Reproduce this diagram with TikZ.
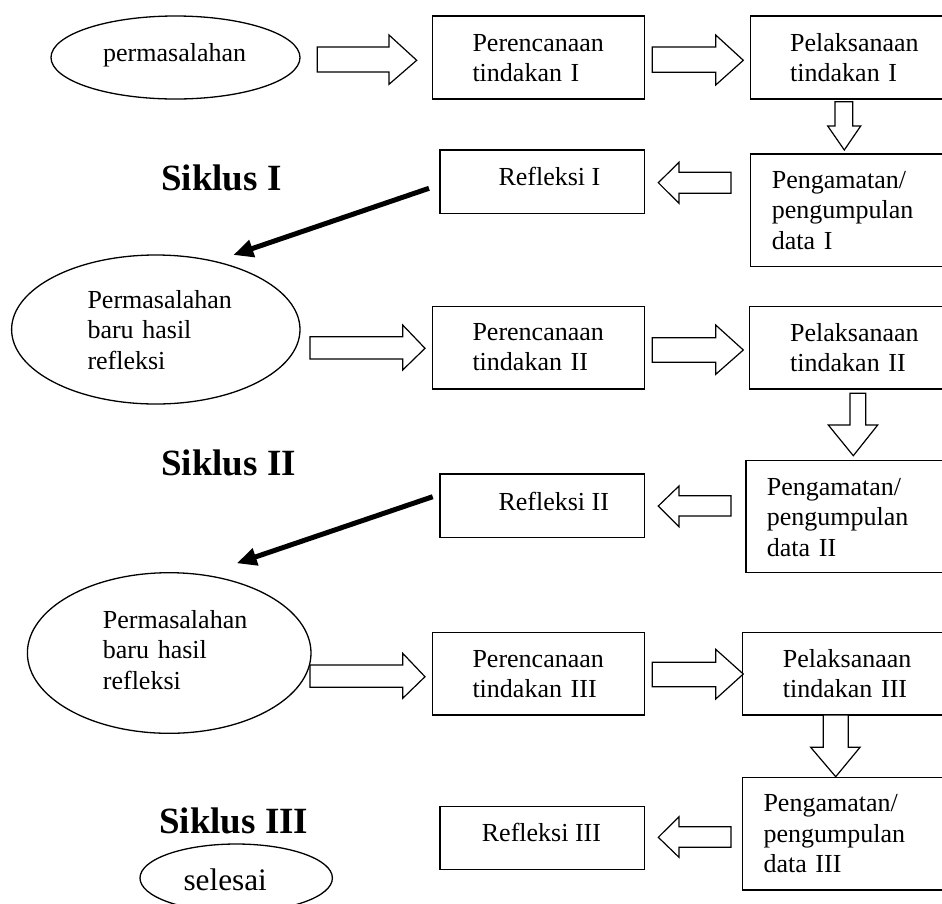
\documentclass[tikz,border=0pt]{standalone}
\usepackage{fontspec}
\setmainfont{Liberation Serif}
\usetikzlibrary{arrows.meta,shapes.geometric}
% horizontal block arrow: tail x, head-start x, tip x, shaft top, shaft bottom, head top, head bottom, tip y
\newcommand{\hblockarrow}[8]{%
  \draw[blockarrow] (#1,#4) -- (#2,#4) -- (#2,#6) -- (#3,#8) -- (#2,#7) -- (#2,#5) -- (#1,#5) -- cycle;}
% vertical block arrow: tail y, head-start y, tip y, shaft left, shaft right, head left, head right, tip x
\newcommand{\vblockarrow}[8]{%
  \draw[blockarrow] (#4,#1) -- (#4,#2) -- (#6,#2) -- (#8,#3) -- (#7,#2) -- (#5,#2) -- (#5,#1) -- cycle;}
\tikzset{
  stepbox/.style={draw, rectangle, line width=1.5pt, inner sep=0pt, outer sep=0pt, anchor=north west},
  oval/.style={draw, ellipse, line width=1.3pt, inner sep=0pt},
  blockarrow/.style={draw, fill=white, line width=1.2pt, line join=miter},
  txt/.style={inner sep=0pt, anchor=base west, font=\fontsize{26}{30.5}\selectfont},
  mtxt/.style={txt, text width=200pt, align=left},
  cyc/.style={inner sep=0pt, anchor=base west, font=\fontsize{37}{44}\selectfont\bfseries},
  thick arrow/.style={line width=5pt, -{Triangle[length=20pt,width=17pt]}}
}
\begin{document}
\begin{tikzpicture}[x=1pt,y=-1pt]
\useasboundingbox (0,0) rectangle (942,903);
\clip (0,0) rectangle (942,903);
\fill[white] (0,0) rectangle (942,903);

% ---- ovals
\node[oval, minimum width=249pt, minimum height=83pt] (e1) at (175.5,57.5) {};
\node[oval, minimum width=288.4pt, minimum height=149pt] (e2) at (155.8,329.5) {};
\node[oval, minimum width=283.6pt, minimum height=160.6pt] (e3) at (169.2,653) {};
\node[oval, minimum width=192.4pt, minimum height=68pt] (e4) at (236.2,878) {};

\node[txt] (te1) at (103,61) {permasalahan};
\node[mtxt] (te2) at (87.3,308.3) {Permasalahan\\baru hasil\\refleksi};
\node[mtxt] (te3) at (102.7,628.3) {Permasalahan\\baru hasil\\refleksi};
\node[txt, font=\fontsize{31.3}{36}\selectfont] (te4) at (183.3,890) {selesai};

% ---- cycle labels
\node[cyc] (s1) at (161,190) {Siklus I};
\node[cyc] (s2) at (161,475) {Siklus II};
\node[cyc] (s3) at (159,833.3) {Siklus III};

% ---- boxes
\node[stepbox, minimum width=212pt, minimum height=83pt] (b1) at (432.3,16) {};
\node[stepbox, minimum width=212pt, minimum height=83pt] (b2) at (750.7,16) {};
\node[stepbox, minimum width=240pt, minimum height=112.7pt] (b3) at (750.7,154) {};
\node[stepbox, minimum width=204.3pt, minimum height=63.3pt] (b4) at (440,150) {};
\node[stepbox, minimum width=212pt, minimum height=82.3pt] (b5) at (432.3,306.7) {};
\node[stepbox, minimum width=212pt, minimum height=82.3pt] (b6) at (749.3,306.7) {};
\node[stepbox, minimum width=240pt, minimum height=112pt] (b7) at (746,460.7) {};
\node[stepbox, minimum width=204.3pt, minimum height=63.3pt] (b8) at (440,474) {};
\node[stepbox, minimum width=212pt, minimum height=82.7pt] (b9) at (432.3,632.3) {};
\node[stepbox, minimum width=212pt, minimum height=82.7pt] (b10) at (742.7,632.3) {};
\node[stepbox, minimum width=240pt, minimum height=112.3pt] (b11) at (742.7,777.7) {};
\node[stepbox, minimum width=204.3pt, minimum height=62.6pt] (b12) at (440,806.7) {};

% ---- box texts
\node[mtxt] (t1) at (472.3,51) {Perencanaan\\tindakan I};
\node[mtxt] (t2) at (790,51) {Pelaksanaan\\tindakan I};
\node[mtxt] (t3) at (771.7,188.3) {Pengamatan/\\pengumpulan\\data I};
\node[txt] (t4) at (498.3,185) {Refleksi I};
\node[mtxt] (t5) at (472.3,340) {Perencanaan\\tindakan II};
\node[mtxt] (t6) at (790,341) {Pelaksanaan\\tindakan II};
\node[mtxt] (t7) at (766.7,495) {Pengamatan/\\pengumpulan\\data II};
\node[txt] (t8) at (498.3,510) {Refleksi II};
\node[mtxt] (t9) at (472.3,667.3) {Perencanaan\\tindakan III};
\node[mtxt] (t10) at (782.7,667.3) {Pelaksanaan\\tindakan III};
\node[mtxt] (t11) at (763.3,811.7) {Pengamatan/\\pengumpulan\\data III};
\node[txt] (t12) at (481.7,841.7) {Refleksi III};

% ---- block arrows
\hblockarrow{317.3}{389}{416.7}{47}{72}{35}{84.3}{60.3}
\hblockarrow{652.3}{715.7}{743.3}{47}{72.3}{35}{85}{60.3}
\vblockarrow{101.7}{126}{150}{835}{852.7}{827.7}{860.7}{844.3}
\hblockarrow{731}{679}{658.3}{172.3}{193.3}{162.3}{203.3}{182.7}

\hblockarrow{310}{402.7}{425}{336.7}{359}{325}{370}{348.3}
\hblockarrow{652.3}{715.7}{743.3}{337.7}{362.3}{325}{374.3}{350}
\vblockarrow{393.3}{425}{455.7}{850}{865.7}{828.3}{877.7}{853.3}
\hblockarrow{731}{679}{658.3}{495.7}{516}{486}{526.7}{506}

\hblockarrow{310}{402.7}{425}{665}{687.3}{653.3}{698.3}{676.7}
\hblockarrow{652.3}{715.7}{743.3}{662.3}{686.7}{649.3}{699}{674}
\vblockarrow{715}{747.3}{776.7}{823.3}{848.3}{810.7}{860}{835.7}
\hblockarrow{731}{679}{658.3}{826.7}{847.3}{816.7}{857.3}{837.3}

% ---- thick arrows from reflection to new problem
\coordinate (r1) at (429,188.3);
\coordinate (n1) at (233.3,255);
\coordinate (r2) at (432.7,496.7);
\coordinate (n2) at (236.7,563.3);
\draw[thick arrow] (r1) -- (n1);
\draw[thick arrow] (r2) -- (n2);
\end{tikzpicture}
\end{document}
